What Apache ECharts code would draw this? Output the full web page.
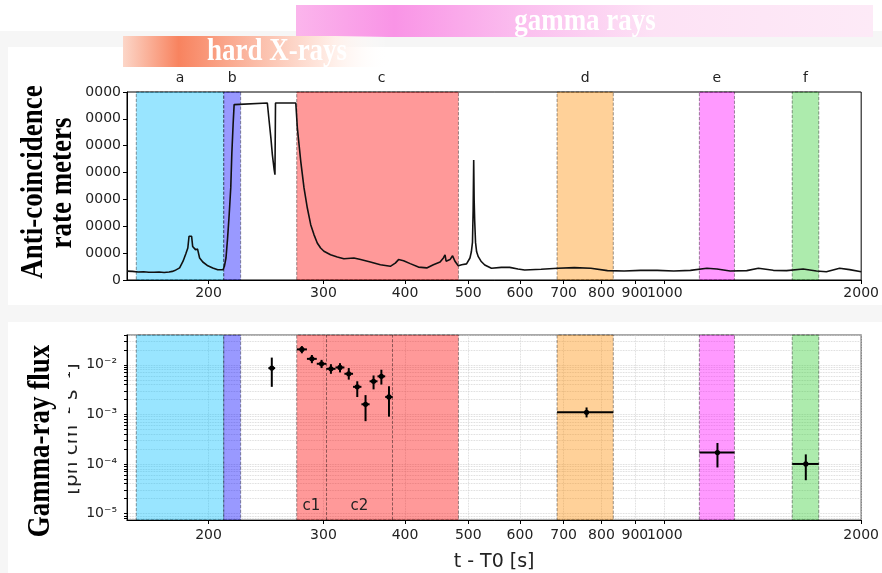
<!DOCTYPE html>
<html>
<head>
<meta charset="utf-8">
<script src="https://cdn.jsdelivr.net/npm/echarts@6/dist/echarts.min.js"></script>
<style>
  html, body { margin: 0; padding: 0; background: #fff; }
  #chart { width: 882px; height: 573px; }
</style>
</head>
<body>
<div id="chart"></div>
<script>
// Anti-coincidence shield count rate (time since trigger [s], counts)
const acsTime = [150, 153, 156, 159, 162, 165, 168, 171, 174, 176, 177.5, 180.6, 182.8, 184.6, 185.9, 186.7,
  188.4, 189.1, 189.9, 191.0, 192.4, 193.8, 196.0, 199.5, 203.0, 206.6, 210.5, 211.5, 212.7, 213.9, 215.1,
  216.3, 217.1, 218.1, 218.9, 220.2, 246.1, 247.7, 249.2, 250.5, 252.1, 252.8, 253.3, 272.1, 273.6, 276.9,
  280.1, 283.4, 286.8, 290.1, 293.5, 297.0, 300.5, 307.6, 315.0, 322.4, 334.0, 342.0, 354.0, 366.7, 379.8,
  386.5, 391.0, 398.0, 407.4, 419.4, 431.9, 442.1, 452.7, 458.0, 460.7, 462.4, 468.8, 473.1, 477.1, 482.7,
  488.5, 497.0, 503.0, 505.5, 507.5, 508.7, 509.7, 510.5, 511.5, 513.0, 515.0, 518.0, 523.0, 530.0, 542.6,
  561.9, 578.7, 595.9, 610.1, 646.6, 685.7, 726.9, 770.5, 817.1, 866.8, 918.3, 973.9, 1032.5, 1094.8,
  1160.5, 1202.3, 1259.6, 1335.8, 1391.6, 1466.9, 1537.2, 1629.7, 1708.1, 1768.8, 1853.4, 1919.8, 2000];
const acsRate = [3300, 3200, 3000, 3100, 2900, 2900, 3000, 2800, 3000, 3200, 3500, 4500, 7000, 9800, 11900, 16300,
  16300, 12500, 12800, 11300, 11500, 8200, 6700, 5300, 4500, 3800, 3800, 5100, 8200, 15600, 24300,
  34300, 46700, 57800, 65300, 65900, 65900, 59100, 52900, 46700, 41100, 39200, 65900, 65900, 56600, 44200,
  34300, 26800, 20600, 16900, 13800, 11900, 10700, 9400, 8600, 7900, 8200, 7600, 6700, 5700, 5100,
  6300, 7600, 7200, 6100, 4800, 4500, 5700, 6700, 8200, 9400, 7000, 7600, 9000, 7000, 5300,
  5700, 6000, 8200, 10500, 14000, 26000, 44700, 30000, 22000, 14000, 10500, 8700, 7000, 5600, 4350,
  4700, 4700, 4100, 3700, 4000, 4350, 4600, 4350, 3500, 3350, 3600, 3600, 3350, 3600,
  4350, 4100, 3350, 3500, 4350, 3600, 3500, 4100, 3350, 3100, 4350, 3850, 3100];

// Gamma-ray flux per time bin [ph cm^-2 s^-1]
const fluxTime = [250, 278, 288, 298, 308, 318, 328, 338, 348, 358, 368, 378, 759, 1204.5, 1645];
const fluxTimeErr = [3, 5, 5, 5, 5, 5, 5, 5, 5, 5, 5, 5, 75, 74.5, 77];
const fluxValue = [8.6e-3, 2.05e-2, 1.32e-2, 1.05e-2, 8.3e-3, 8.85e-3, 6.6e-3, 3.6e-3, 1.6e-3, 4.66e-3, 5.86e-3, 2.25e-3, 1.1e-3, 1.7e-4, 1.0e-4];
const fluxLow = [3.6e-3, 1.71e-2, 1.08e-2, 8.6e-3, 6.6e-3, 7.03e-3, 5.03e-3, 2.24e-3, 7.3e-4, 3.2e-3, 4.0e-3, 9.0e-4, 8.7e-4, 8.5e-5, 4.7e-5];
const fluxHigh = [1.4e-2, 2.39e-2, 1.58e-2, 1.26e-2, 1.03e-2, 1.08e-2, 8.6e-3, 4.66e-3, 2.45e-3, 6.1e-3, 7.96e-3, 3.7e-3, 1.38e-3, 2.65e-4, 1.56e-4];

// Time intervals a-f and the c1/c2 split of interval c
const regionNames = ['a', 'b', 'c', 'd', 'e', 'f'];
const regionStart = [155, 211, 273, 684, 1130, 1568];
const regionEnd = [211, 224, 483, 834, 1279, 1722];
const subNames = ['c1', 'c2'];
const subStart = [273, 303];
const subEnd = [303, 383];

// Axis ticks
const timeTicks = [200, 300, 400, 500, 600, 700, 800, 900, 1000, 2000];
const fluxDecades = [1e-5, 1e-4, 1e-3, 1e-2];

const regionFill = ['rgba(0,191,255,0.4)', 'rgba(0,0,255,0.4)', 'rgba(255,0,0,0.4)',
  'rgba(255,140,0,0.4)', 'rgba(255,0,255,0.4)', 'rgba(50,205,50,0.4)'];

const FONT = 'DejaVu Sans';
const SERIF = 'Liberation Serif';
const FLUX_MIN = 7.4e-6, FLUX_MAX = 0.04;

// minor log ticks (2..9 x 10^k) for the flux axis
const fluxTicks = [];
for (let k = -6; k <= -1; k++) {
  for (let m = 1; m <= 9; m++) {
    const v = m * Math.pow(10, k);
    if (v >= FLUX_MIN && v <= FLUX_MAX) fluxTicks.push(v);
  }
}

const SUP = { '-': '\u207B', '0': '\u2070', '1': '\u00B9', '2': '\u00B2', '3': '\u00B3',
  '4': '\u2074', '5': '\u2075', '6': '\u2076', '7': '\u2077', '8': '\u2078', '9': '\u2079' };
const powLabel = v => '10' + String(Math.round(Math.log10(v))).split('').map(c => SUP[c]).join('');

const labelStyle = { fontFamily: FONT, fontSize: 14, color: '#222' };

function timeAxis(gridIndex, withGrid, extra) {
  return Object.assign({
    type: 'log', logBase: 10, gridIndex, min: 150, max: 2000,
    axisLine: { show: true, lineStyle: { color: '#000', width: 1 } },
    axisTick: { show: true, customValues: timeTicks, length: 4, lineStyle: { color: '#000' } },
    axisLabel: Object.assign({ customValues: timeTicks, formatter: v => String(Math.round(v)), margin: 6 }, labelStyle),
    splitLine: { show: withGrid, lineStyle: { color: '#cfcfcf', type: 'dotted', width: 0.8 } },
    minorTick: { show: false }, minorSplitLine: { show: false }
  }, extra || {});
}

const regionAreas = withLabels => regionNames.map((n, i) => [
  { name: withLabels ? n : '', xAxis: regionStart[i], itemStyle: { color: regionFill[i] },
    label: { offset: n === 'c' ? [4, 0] : [0, 0] } },
  { xAxis: regionEnd[i] }
]);

const option = {
  backgroundColor: '#ffffff',
  animation: false,
  grid: [
    { left: 127, top: 92, width: 739, height: 188, show: true, borderColor: '#000', borderWidth: 1, backgroundColor: 'transparent' },
    { left: 127, top: 335, width: 739, height: 188, show: true, borderColor: '#555', borderWidth: 1.2, backgroundColor: 'transparent' }
  ],
  xAxis: [
    timeAxis(0, false),
    timeAxis(1, true, {
      name: 't - T0 [s]', nameLocation: 'middle', nameGap: 33,
      nameTextStyle: { fontFamily: FONT, fontSize: 19, color: '#222' },
      axisLabel: Object.assign({ customValues: timeTicks, formatter: v => String(Math.round(v)), margin: 8 }, labelStyle)
    })
  ],
  yAxis: [
    {
      type: 'value', gridIndex: 0, min: 0, max: 70000, interval: 10000,
      axisLine: { show: true, lineStyle: { color: '#000' } },
      axisTick: { show: true, length: 4, lineStyle: { color: '#000' } },
      axisLabel: Object.assign({ formatter: v => String(v), margin: 6 }, labelStyle),
      splitLine: { show: false }
    },
    {
      type: 'log', logBase: 10, gridIndex: 1, min: FLUX_MIN, max: FLUX_MAX,
      axisLine: { show: true, lineStyle: { color: '#000' } },
      axisTick: { show: true, customValues: fluxTicks, length: 3, lineStyle: { color: '#000' } },
      axisLabel: Object.assign({ customValues: fluxDecades, formatter: powLabel, margin: 10 }, labelStyle),
      splitLine: { show: true, lineStyle: { color: '#cfcfcf', type: 'dotted', width: 0.8 } },
      minorTick: { show: false }, minorSplitLine: { show: false }
    }
  ],
  series: [
    {
      name: 'ACS rate', type: 'line', xAxisIndex: 0, yAxisIndex: 0,
      data: acsTime.map((t, i) => [t, acsRate[i]]),
      showSymbol: false, symbol: 'none', smooth: false,
      lineStyle: { color: '#111', width: 1.6 },
      z: 3,
      markArea: {
        silent: true,
        itemStyle: { borderColor: 'rgba(0,0,0,0.5)', borderWidth: 0.8, borderType: 'dashed' },
        label: { show: true, position: 'top', distance: 6, fontFamily: FONT, fontSize: 14, color: '#222' },
        data: regionAreas(true)
      }
    },
    {
      name: 'intervals', type: 'line', xAxisIndex: 1, yAxisIndex: 1, data: [],
      markArea: {
        silent: true,
        itemStyle: { borderColor: 'rgba(0,0,0,0.5)', borderWidth: 0.8, borderType: 'dashed' },
        label: { show: false },
        data: regionAreas(false).concat(subNames.map((n, i) => [
          { name: n, xAxis: subStart[i], itemStyle: { color: 'rgba(0,0,0,0)', borderWidth: 0 },
            label: { show: true, position: 'insideBottom', distance: 6, fontFamily: FONT, fontSize: 15, color: '#222' } },
          { xAxis: subEnd[i] }
        ]))
      },
      markLine: {
        silent: true, symbol: 'none',
        lineStyle: { color: 'rgba(0,0,0,0.55)', type: 'dashed', width: 0.8 },
        label: { show: false },
        data: [{ xAxis: subStart[1] }, { xAxis: subEnd[1] }]
      }
    },
    {
      name: 'gamma flux', type: 'custom', xAxisIndex: 1, yAxisIndex: 1, z: 4,
      data: fluxTime.map((t, i) => [t, fluxTimeErr[i], fluxValue[i], fluxLow[i], fluxHigh[i]]),
      encode: { x: 0, y: 2 },
      renderItem: function (params, api) {
        const t = api.value(0), te = api.value(1), f = api.value(2), lo = api.value(3), hi = api.value(4);
        const c = api.coord([t, f]);
        const l = api.coord([t - te, f]);
        const r = api.coord([t + te, f]);
        const top = api.coord([t, hi]);
        const bot = api.coord([t, lo]);
        const st = { stroke: '#000', lineWidth: 2 };
        return {
          type: 'group',
          children: [
            { type: 'line', shape: { x1: l[0], y1: c[1], x2: r[0], y2: c[1] }, style: st },
            { type: 'line', shape: { x1: c[0], y1: top[1], x2: c[0], y2: bot[1] }, style: st },
            { type: 'circle', shape: { cx: c[0], cy: c[1], r: 2.6 }, style: { fill: '#000' } }
          ]
        };
      }
    }
  ],
  graphic: [
    // page background and panels
    { type: 'rect', z: -100, silent: true, shape: { x: 0, y: 31, width: 882, height: 542 }, style: { fill: '#f6f6f6' } },
    { type: 'rect', z: -99, silent: true, shape: { x: 8, y: 47, width: 874, height: 258 }, style: { fill: '#ffffff' } },
    { type: 'rect', z: -99, silent: true, shape: { x: 8, y: 322, width: 874, height: 251 }, style: { fill: '#ffffff' } },
    // energy band banners
    {
      type: 'rect', z: 20, silent: true, shape: { x: 296, y: 5, width: 577, height: 32 },
      style: { fill: { type: 'linear', x: 0, y: 0, x2: 1, y2: 0, colorStops: [
        { offset: 0, color: '#fbb5ec' }, { offset: 0.17, color: '#f994e6' }, { offset: 0.4, color: '#fbc0ef' },
        { offset: 0.62, color: '#fde2f5' }, { offset: 1, color: '#fdeaf7' } ] } }
    },
    {
      type: 'text', z: 21, silent: true, x: 585, y: 22, scaleY: 1.2,
      style: { text: 'gamma rays', fill: '#ffffff', font: 'bold 27px "' + SERIF + '"', textAlign: 'center', textVerticalAlign: 'middle' }
    },
    {
      type: 'rect', z: 20, silent: true, shape: { x: 123, y: 36, width: 265, height: 31 },
      style: { fill: { type: 'linear', x: 0, y: 0, x2: 1, y2: 0, colorStops: [
        { offset: 0, color: '#fcd6c8' }, { offset: 0.21, color: '#f8835f' }, { offset: 0.5, color: '#fbbca7' },
        { offset: 0.8, color: '#fff0ea' }, { offset: 1, color: 'rgba(255,255,255,0)' } ] } }
    },
    {
      type: 'text', z: 21, silent: true, x: 277, y: 52, scaleY: 1.2,
      style: { text: 'hard X-rays', fill: '#ffffff', font: 'bold 27px "' + SERIF + '"', textAlign: 'center', textVerticalAlign: 'middle' }
    },
    // flux unit label, partly hidden under the title strip
    {
      type: 'text', z: 10, silent: true, x: 72, y: 429, rotation: Math.PI / 2,
      style: { text: '[ph cm\u207B\u00B2 s\u207B\u00B9]', fill: '#222', font: '20px "' + FONT + '"', textAlign: 'center', textVerticalAlign: 'middle' }
    },
    { type: 'rect', z: 50, silent: true, shape: { x: 8, y: 85, width: 77, height: 215 }, style: { fill: '#ffffff' } },
    { type: 'rect', z: 50, silent: true, shape: { x: 8, y: 330, width: 60, height: 200 }, style: { fill: '#ffffff' } },
    // panel titles
    {
      type: 'text', z: 60, silent: true, x: 34, y: 182, rotation: Math.PI / 2, scaleY: 1.15,
      style: { text: 'Anti-coincidence', fill: '#000', font: 'bold 27px "' + SERIF + '"', textAlign: 'center', textVerticalAlign: 'middle' }
    },
    {
      type: 'text', z: 60, silent: true, x: 63, y: 183, rotation: Math.PI / 2, scaleY: 1.15,
      style: { text: 'rate meters', fill: '#000', font: 'bold 27px "' + SERIF + '"', textAlign: 'center', textVerticalAlign: 'middle' }
    },
    {
      type: 'text', z: 60, silent: true, x: 41, y: 441, rotation: Math.PI / 2, scaleY: 1.15,
      style: { text: 'Gamma-ray flux', fill: '#000', font: 'bold 27px "' + SERIF + '"', textAlign: 'center', textVerticalAlign: 'middle' }
    }
  ]
};

const chart = echarts.init(document.getElementById('chart'), null, { renderer: 'canvas' });
chart.setOption(option);
</script>
</body>
</html>
